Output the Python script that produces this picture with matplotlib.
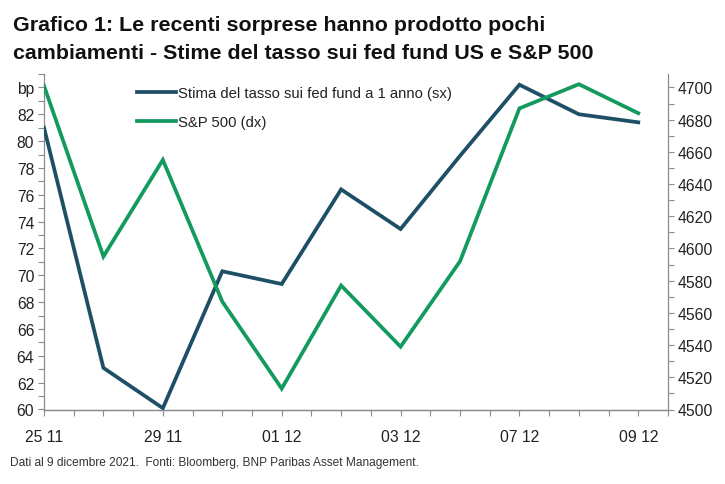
import matplotlib
matplotlib.use("Agg")
import matplotlib.pyplot as plt
from matplotlib.ticker import MultipleLocator

plt.rcParams['font.family'] = ['Liberation Sans', 'DejaVu Sans']

dates = ["25 11", "26 11", "29 11", "30 11", "01 12", "02 12", "03 12",
         "06 12", "07 12", "08 12", "09 12"]
fed_fund = [81.0, 63.1, 60.1, 70.3, 69.35, 76.4, 73.45, 78.9, 84.2, 82.0, 81.4]
sp500 = [4701, 4595, 4655, 4567, 4513, 4577, 4539, 4592, 4687, 4702, 4684]

left_ticks = [60, 62, 64, 66, 68, 70, 72, 74, 76, 78, 80, 82, 84]
left_labels = ["60", "62", "64", "66", "68", "70", "72", "74", "76", "78", "80", "82", "bp"]
right_ticks = [4500, 4520, 4540, 4560, 4580, 4600, 4620, 4640, 4660, 4680, 4700]

blue = "#1d4f66"
green = "#139a5e"
spine_c = "#8c8c8c"
text_c = "#222222"

fig = plt.figure(figsize=(7.25, 4.85), dpi=100)
ax = fig.add_axes([44/725, 1-410.5/485, (668-44)/725, (410.5-75)/485])
ax2 = ax.twinx()

x = list(range(len(dates)))
l1, = ax.plot(x, fed_fund, color=blue, lw=2.7, solid_joinstyle='miter', zorder=3)
l2, = ax2.plot(x, sp500, color=green, lw=2.7, solid_joinstyle='miter', zorder=3)

ax.set_xlim(0, 10.5)
ax.set_ylim(60, 85)
ax2.set_ylim(4500, 4500 + 25 * 200 / 24)

ax.set_xticks(x[::2])
ax.set_xticklabels(dates[::2])
ax.xaxis.set_minor_locator(MultipleLocator(0.5))
ax.set_yticks(left_ticks)
ax.set_yticklabels(left_labels)
ax.yaxis.set_minor_locator(MultipleLocator(1))
ax2.set_yticks(right_ticks)
ax2.yaxis.set_minor_locator(MultipleLocator(10))

for a in (ax, ax2):
    a.spines['top'].set_visible(False)
    for s in ('left', 'right', 'bottom'):
        a.spines[s].set_color(spine_c)
        a.spines[s].set_linewidth(0.9)
    a.tick_params(which='both', direction='out', length=4, width=0.8, color=spine_c,
                  labelsize=11.3, labelcolor=text_c, pad=3)
ax.tick_params(axis='x', pad=10)
ax2.spines['left'].set_visible(False)
ax.spines['right'].set_visible(False)

fig.legend([l1, l2], ["Stima del tasso sui fed fund a 1 anno (sx)", "S&P 500 (dx)"],
           loc='upper left', bbox_to_anchor=(124/725, 1-74/485), frameon=False,
           fontsize=10.7, handlelength=2.6, handletextpad=0.12, labelspacing=1.0,
           labelcolor=text_c)

fig.text(13/725, 1-16/485, "Grafico 1: Le recenti sorprese hanno prodotto pochi\ncambiamenti - Stime del tasso sui fed fund US e S&P 500",
         ha='left', va='top', fontsize=15.4, fontweight='bold', color='#111111',
         linespacing=1.6)
fig.text(10/725, 1-463/485, "Dati al 9 dicembre 2021.  Fonti: Bloomberg, BNP Paribas Asset Management.",
         ha='left', va='center', fontsize=8.6, color='#333333')

fig.savefig("out.png", dpi=100)
